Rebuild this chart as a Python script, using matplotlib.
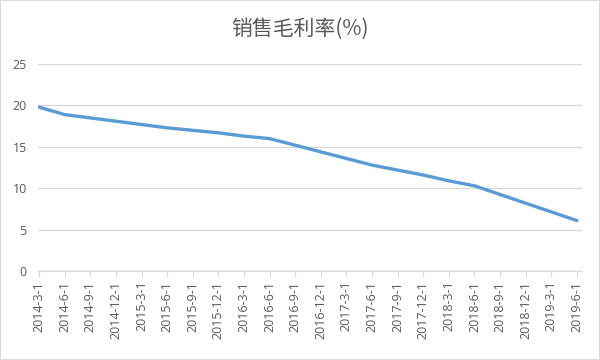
import matplotlib
matplotlib.use('Agg')
from matplotlib import pyplot as plt
from matplotlib.patches import Rectangle

dates = ['2014-3-1', '2014-6-1', '2014-9-1', '2014-12-1', '2015-3-1', '2015-6-1',
         '2015-9-1', '2015-12-1', '2016-3-1', '2016-6-1', '2016-9-1', '2016-12-1',
         '2017-3-1', '2017-6-1', '2017-9-1', '2017-12-1', '2018-3-1', '2018-6-1',
         '2018-9-1', '2018-12-1', '2019-3-1', '2019-6-1']
margin = [19.8, 18.9, 18.5, 18.1, 17.7, 17.3,
          17.0, 16.7, 16.3, 16.0, 15.2, 14.4,
          13.6, 12.8, 12.2, 11.6, 10.9, 10.3,
          9.25, 8.2, 7.15, 6.1]
title = '销售毛利率(%)'

plt.rcParams['font.family'] = ['Open Sans', 'DejaVu Sans']
txt = '#595959'
grid = '#D9D9D9'

fig = plt.figure(figsize=(6, 3.6), dpi=100)
ax = fig.add_axes([0.063, 0.247, 0.907, 0.575])

x = list(range(len(dates)))
ax.plot(x, margin, color='#5B9BD5', lw=2.4, solid_capstyle='round', zorder=3)

ax.set_ylim(0, 25)
ax.set_yticks([0, 5, 10, 15, 20, 25])
ax.set_xlim(-0.05, len(dates) - 1 + 0.2)
ax.set_xticks(x)
ax.set_xticklabels(dates, rotation=90)

ax.yaxis.grid(True, color=grid, lw=1)
ax.set_axisbelow(True)
for s in ['top', 'right', 'left']:
    ax.spines[s].set_visible(False)
ax.spines['bottom'].set_color(grid)
ax.tick_params(axis='y', length=0, labelsize=9, colors=txt, pad=8)
ax.tick_params(axis='x', length=4, color=grid, labelsize=9, labelcolor=txt, pad=3)

fig.text(0.5, 0.92, title, ha='center', va='center', fontsize=15, color=txt,
         family=['Noto Sans CJK SC', 'DejaVu Sans'])

fig.patches.append(Rectangle((0, 0), 1, 1, transform=fig.transFigure,
                             fill=False, edgecolor=grid, lw=1.5))

fig.savefig('out.png', dpi=100)
